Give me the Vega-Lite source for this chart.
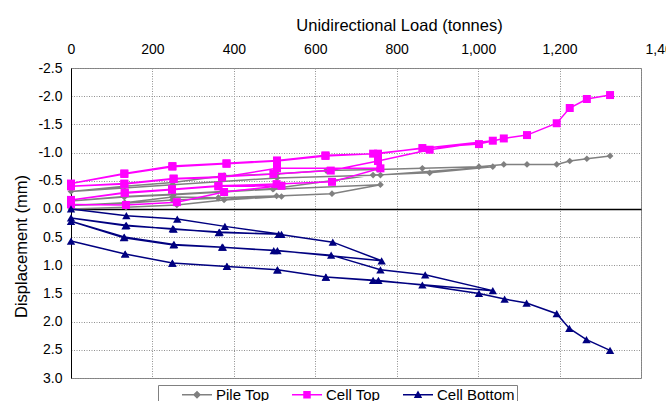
{
  "$schema": "https://vega.github.io/schema/vega-lite/v6.json",
  "width": 570,
  "height": 310,
  "autosize": {"type": "none"},
  "padding": {"left": 71, "top": 68, "right": 25, "bottom": 23},
  "background": "white",
  "config": {
    "view": {"stroke": "#808080", "strokeWidth": 1},
    "font": "Liberation Sans",
    "axis": {"labelFont": "Liberation Sans", "titleFont": "Liberation Sans", "labelColor": "black", "titleColor": "black", "titleFontWeight": "normal"}
  },
  "data": {"values": [
    {"s":"Pile Top","i":1,"load":0,"disp":0.00},
    {"s":"Pile Top","i":2,"load":135,"disp":-0.03},
    {"s":"Pile Top","i":3,"load":260,"disp":-0.07},
    {"s":"Pile Top","i":4,"load":376,"disp":-0.16},
    {"s":"Pile Top","i":5,"load":517,"disp":-0.22},
    {"s":"Pile Top","i":6,"load":362,"disp":-0.19},
    {"s":"Pile Top","i":7,"load":249,"disp":-0.16},
    {"s":"Pile Top","i":8,"load":132,"disp":-0.10},
    {"s":"Pile Top","i":9,"load":0,"disp":-0.06},
    {"s":"Pile Top","i":10,"load":132,"disp":-0.11},
    {"s":"Pile Top","i":11,"load":249,"disp":-0.21},
    {"s":"Pile Top","i":12,"load":362,"disp":-0.20},
    {"s":"Pile Top","i":13,"load":505,"disp":-0.23},
    {"s":"Pile Top","i":14,"load":641,"disp":-0.27},
    {"s":"Pile Top","i":15,"load":760,"disp":-0.43},
    {"s":"Pile Top","i":16,"load":496,"disp":-0.35},
    {"s":"Pile Top","i":17,"load":371,"disp":-0.30},
    {"s":"Pile Top","i":18,"load":252,"disp":-0.25},
    {"s":"Pile Top","i":19,"load":131,"disp":-0.21},
    {"s":"Pile Top","i":20,"load":0,"disp":-0.14},
    {"s":"Pile Top","i":21,"load":131,"disp":-0.22},
    {"s":"Pile Top","i":22,"load":252,"disp":-0.26},
    {"s":"Pile Top","i":23,"load":371,"disp":-0.31},
    {"s":"Pile Top","i":24,"load":498,"disp":-0.36},
    {"s":"Pile Top","i":25,"load":742,"disp":-0.60},
    {"s":"Pile Top","i":26,"load":881,"disp":-0.64},
    {"s":"Pile Top","i":27,"load":1036,"disp":-0.75},
    {"s":"Pile Top","i":28,"load":760,"disp":-0.60},
    {"s":"Pile Top","i":29,"load":506,"disp":-0.55},
    {"s":"Pile Top","i":30,"load":250,"disp":-0.43},
    {"s":"Pile Top","i":31,"load":0,"disp":-0.31},
    {"s":"Pile Top","i":32,"load":132,"disp":-0.40},
    {"s":"Pile Top","i":33,"load":250,"disp":-0.47},
    {"s":"Pile Top","i":34,"load":376,"disp":-0.59},
    {"s":"Pile Top","i":35,"load":506,"disp":-0.62},
    {"s":"Pile Top","i":36,"load":627,"disp":-0.68},
    {"s":"Pile Top","i":37,"load":754,"disp":-0.70},
    {"s":"Pile Top","i":38,"load":863,"disp":-0.72},
    {"s":"Pile Top","i":39,"load":1002,"disp":-0.75},
    {"s":"Pile Top","i":40,"load":1063,"disp":-0.79},
    {"s":"Pile Top","i":41,"load":1120,"disp":-0.79},
    {"s":"Pile Top","i":42,"load":1193,"disp":-0.79},
    {"s":"Pile Top","i":43,"load":1225,"disp":-0.85},
    {"s":"Pile Top","i":44,"load":1267,"disp":-0.89},
    {"s":"Pile Top","i":45,"load":1324,"disp":-0.94},

    {"s":"Cell Top","i":1,"load":0,"disp":-0.08},
    {"s":"Cell Top","i":2,"load":135,"disp":-0.07},
    {"s":"Cell Top","i":3,"load":260,"disp":-0.12},
    {"s":"Cell Top","i":4,"load":376,"disp":-0.30},
    {"s":"Cell Top","i":5,"load":517,"disp":-0.41},
    {"s":"Cell Top","i":6,"load":362,"disp":-0.40},
    {"s":"Cell Top","i":7,"load":248,"disp":-0.34},
    {"s":"Cell Top","i":8,"load":132,"disp":-0.28},
    {"s":"Cell Top","i":9,"load":0,"disp":-0.16},
    {"s":"Cell Top","i":10,"load":132,"disp":-0.29},
    {"s":"Cell Top","i":11,"load":248,"disp":-0.35},
    {"s":"Cell Top","i":12,"load":362,"disp":-0.41},
    {"s":"Cell Top","i":13,"load":505,"disp":-0.44},
    {"s":"Cell Top","i":14,"load":641,"disp":-0.48},
    {"s":"Cell Top","i":15,"load":760,"disp":-0.72},
    {"s":"Cell Top","i":16,"load":506,"disp":-0.72},
    {"s":"Cell Top","i":17,"load":371,"disp":-0.56},
    {"s":"Cell Top","i":18,"load":252,"disp":-0.53},
    {"s":"Cell Top","i":19,"load":131,"disp":-0.44},
    {"s":"Cell Top","i":20,"load":0,"disp":-0.40},
    {"s":"Cell Top","i":21,"load":131,"disp":-0.45},
    {"s":"Cell Top","i":22,"load":252,"disp":-0.54},
    {"s":"Cell Top","i":23,"load":371,"disp":-0.57},
    {"s":"Cell Top","i":24,"load":497,"disp":-0.62},
    {"s":"Cell Top","i":25,"load":638,"disp":-0.68},
    {"s":"Cell Top","i":26,"load":754,"disp":-0.85},
    {"s":"Cell Top","i":27,"load":881,"disp":-1.05},
    {"s":"Cell Top","i":28,"load":1036,"disp":-1.21},
    {"s":"Cell Top","i":29,"load":742,"disp":-0.98},
    {"s":"Cell Top","i":30,"load":625,"disp":-0.94},
    {"s":"Cell Top","i":31,"load":506,"disp":-0.85},
    {"s":"Cell Top","i":32,"load":382,"disp":-0.80},
    {"s":"Cell Top","i":33,"load":249,"disp":-0.75},
    {"s":"Cell Top","i":34,"load":131,"disp":-0.62},
    {"s":"Cell Top","i":35,"load":0,"disp":-0.45},
    {"s":"Cell Top","i":36,"load":131,"disp":-0.63},
    {"s":"Cell Top","i":37,"load":249,"disp":-0.76},
    {"s":"Cell Top","i":38,"load":382,"disp":-0.81},
    {"s":"Cell Top","i":39,"load":506,"disp":-0.86},
    {"s":"Cell Top","i":40,"load":625,"disp":-0.95},
    {"s":"Cell Top","i":41,"load":754,"disp":-0.98},
    {"s":"Cell Top","i":42,"load":863,"disp":-1.08},
    {"s":"Cell Top","i":43,"load":1002,"disp":-1.15},
    {"s":"Cell Top","i":44,"load":1063,"disp":-1.25},
    {"s":"Cell Top","i":45,"load":1120,"disp":-1.31},
    {"s":"Cell Top","i":46,"load":1193,"disp":-1.52},
    {"s":"Cell Top","i":47,"load":1225,"disp":-1.79},
    {"s":"Cell Top","i":48,"load":1267,"disp":-1.95},
    {"s":"Cell Top","i":49,"load":1324,"disp":-2.02},

    {"s":"Cell Bottom","i":1,"load":0,"disp":0.00},
    {"s":"Cell Bottom","i":2,"load":136,"disp":0.12},
    {"s":"Cell Bottom","i":3,"load":261,"disp":0.18},
    {"s":"Cell Bottom","i":4,"load":378,"disp":0.31},
    {"s":"Cell Bottom","i":5,"load":517,"disp":0.45},
    {"s":"Cell Bottom","i":6,"load":363,"disp":0.42},
    {"s":"Cell Bottom","i":7,"load":250,"disp":0.35},
    {"s":"Cell Bottom","i":8,"load":134,"disp":0.30},
    {"s":"Cell Bottom","i":9,"load":0,"disp":0.16},
    {"s":"Cell Bottom","i":10,"load":136,"disp":0.29},
    {"s":"Cell Bottom","i":11,"load":252,"disp":0.36},
    {"s":"Cell Bottom","i":12,"load":365,"disp":0.41},
    {"s":"Cell Bottom","i":13,"load":510,"disp":0.45},
    {"s":"Cell Bottom","i":14,"load":643,"disp":0.59},
    {"s":"Cell Bottom","i":15,"load":763,"disp":0.92},
    {"s":"Cell Bottom","i":16,"load":507,"disp":0.74},
    {"s":"Cell Bottom","i":17,"load":371,"disp":0.68},
    {"s":"Cell Bottom","i":18,"load":252,"disp":0.64},
    {"s":"Cell Bottom","i":19,"load":130,"disp":0.51},
    {"s":"Cell Bottom","i":20,"load":0,"disp":0.22},
    {"s":"Cell Bottom","i":21,"load":131,"disp":0.50},
    {"s":"Cell Bottom","i":22,"load":253,"disp":0.63},
    {"s":"Cell Bottom","i":23,"load":373,"disp":0.68},
    {"s":"Cell Bottom","i":24,"load":498,"disp":0.74},
    {"s":"Cell Bottom","i":25,"load":639,"disp":0.82},
    {"s":"Cell Bottom","i":26,"load":760,"disp":1.08},
    {"s":"Cell Bottom","i":27,"load":870,"disp":1.17},
    {"s":"Cell Bottom","i":28,"load":1036,"disp":1.45},
    {"s":"Cell Bottom","i":29,"load":742,"disp":1.27},
    {"s":"Cell Bottom","i":30,"load":626,"disp":1.21},
    {"s":"Cell Bottom","i":31,"load":507,"disp":1.08},
    {"s":"Cell Bottom","i":32,"load":383,"disp":1.02},
    {"s":"Cell Bottom","i":33,"load":249,"disp":0.96},
    {"s":"Cell Bottom","i":34,"load":133,"disp":0.80},
    {"s":"Cell Bottom","i":35,"load":0,"disp":0.57},
    {"s":"Cell Bottom","i":36,"load":133,"disp":0.80},
    {"s":"Cell Bottom","i":37,"load":249,"disp":0.96},
    {"s":"Cell Bottom","i":38,"load":383,"disp":1.02},
    {"s":"Cell Bottom","i":39,"load":507,"disp":1.08},
    {"s":"Cell Bottom","i":40,"load":626,"disp":1.21},
    {"s":"Cell Bottom","i":41,"load":755,"disp":1.27},
    {"s":"Cell Bottom","i":42,"load":863,"disp":1.35},
    {"s":"Cell Bottom","i":43,"load":1002,"disp":1.50},
    {"s":"Cell Bottom","i":44,"load":1065,"disp":1.60},
    {"s":"Cell Bottom","i":45,"load":1119,"disp":1.67},
    {"s":"Cell Bottom","i":46,"load":1193,"disp":1.86},
    {"s":"Cell Bottom","i":47,"load":1224,"disp":2.12},
    {"s":"Cell Bottom","i":48,"load":1266,"disp":2.32},
    {"s":"Cell Bottom","i":49,"load":1324,"disp":2.51}
  ]},
  "encoding": {
    "x": {"field": "load", "type": "quantitative", "scale": {"domain": [0, 1400], "nice": false, "zero": false},
      "axis": {"orient": "top", "values": [0,200,400,600,800,1000,1200,1400], "format": ",d", "labelFontSize": 14, "labelPadding": 12, "labelFlush": false, "labelOverlap": false, "ticks": false, "domain": false, "grid": true, "gridColor": "#909090", "gridDash": [1, 1.5],
        "labelAlign": {"condition": {"test": "datum.value === 1400", "value": "left"}, "value": "center"},
        "labelOffset": {"condition": {"test": "datum.value === 1400", "value": 4}, "value": 0},
        "title": "Unidirectional Load (tonnes)", "titleFontSize": 16.5, "titlePadding": 9, "titleX": 328}},
    "y": {"field": "disp", "type": "quantitative", "scale": {"domain": [-2.5, 3], "reverse": true, "nice": false, "zero": false},
      "axis": {"values": [-2.5,-2,-1.5,-1,-0.5,0,0.5,1,1.5,2,2.5,3], "labelExpr": "replace(format(datum.value, '.1f'), '\u2212', '-')", "labelFontSize": 14, "labelPadding": 9, "ticks": false, "domain": true, "domainColor": "black", "domainWidth": 1, "grid": true,
        "gridColor": {"condition": {"test": "datum.value === 0", "value": "black"}, "value": "#909090"},
        "gridDash": {"condition": {"test": "datum.value === 0", "value": []}, "value": [1, 1.5]},
        "gridWidth": {"condition": {"test": "datum.value === 0", "value": 1.3}, "value": 1},
        "title": "Displacement (mm)", "titleFontSize": 16.5, "titlePadding": 8, "titleY": 178}},
    "order": {"field": "i", "type": "quantitative"}
  },
  "layer": [
    {
      "transform": [{"filter": "datum.s === 'Pile Top'"}],
      "mark": {"type": "line", "color": "#808080", "strokeWidth": 1.5}
    },
    {
      "transform": [{"filter": "datum.s === 'Pile Top'"}],
      "mark": {"type": "point", "shape": "diamond", "color": "#808080", "filled": true, "size": 45, "opacity": 1, "strokeWidth": 0}
    },
    {
      "transform": [{"filter": "datum.s === 'Cell Top'"}],
      "mark": {"type": "line", "color": "#FF00FF", "strokeWidth": 1.5}
    },
    {
      "transform": [{"filter": "datum.s === 'Cell Top'"}],
      "mark": {"type": "point", "shape": "square", "color": "#FF00FF", "filled": true, "size": 64, "opacity": 1, "strokeWidth": 0}
    },
    {
      "transform": [{"filter": "datum.s === 'Cell Bottom'"}],
      "mark": {"type": "line", "color": "#000080", "strokeWidth": 1.5}
    },
    {
      "transform": [{"filter": "datum.s === 'Cell Bottom'"}],
      "mark": {"type": "point", "shape": "triangle-up", "color": "#000080", "filled": true, "size": 70, "opacity": 1, "strokeWidth": 0}
    },
    {
      "mark": {"type": "point", "filled": true, "size": 0, "strokeWidth": 0},
      "encoding": {
        "color": {"field": "s", "type": "nominal", "scale": {"domain": ["Pile Top", "Cell Top", "Cell Bottom"], "range": ["#808080", "#FF00FF", "#000080"]},
          "legend": {"title": null, "orient": "none", "legendX": 87, "legendY": 317, "direction": "horizontal", "padding": 2, "strokeColor": "#808080", "fillColor": "white", "labelFont": "Liberation Sans", "labelFontSize": 15, "labelColor": "black", "symbolOffset": 22, "labelOffset": 4, "columnPadding": -1, "clipHeight": 15, "symbolSize": 900, "symbolStrokeWidth": 0, "symbolOpacity": 1}},
        "shape": {"field": "s", "type": "nominal", "scale": {"domain": ["Pile Top", "Cell Top", "Cell Bottom"],
          "range": ["M-1,-0.05H1V0.05H-1Z M0,-0.27L0.27,0L0,0.27L-0.27,0Z", "M-1,-0.05H1V0.05H-1Z M-0.25,-0.25H0.25V0.25H-0.25Z", "M-1,-0.05H1V0.05H-1Z M0,-0.28L0.28,0.22H-0.28Z"]},
          "legend": {"title": null, "orient": "none", "legendX": 87, "legendY": 317, "direction": "horizontal", "padding": 2, "strokeColor": "#808080", "fillColor": "white", "labelFont": "Liberation Sans", "labelFontSize": 15, "labelColor": "black", "symbolOffset": 22, "labelOffset": 4, "columnPadding": -1, "clipHeight": 15, "symbolSize": 900, "symbolStrokeWidth": 0, "symbolOpacity": 1}}
      }
    }
  ]
}
